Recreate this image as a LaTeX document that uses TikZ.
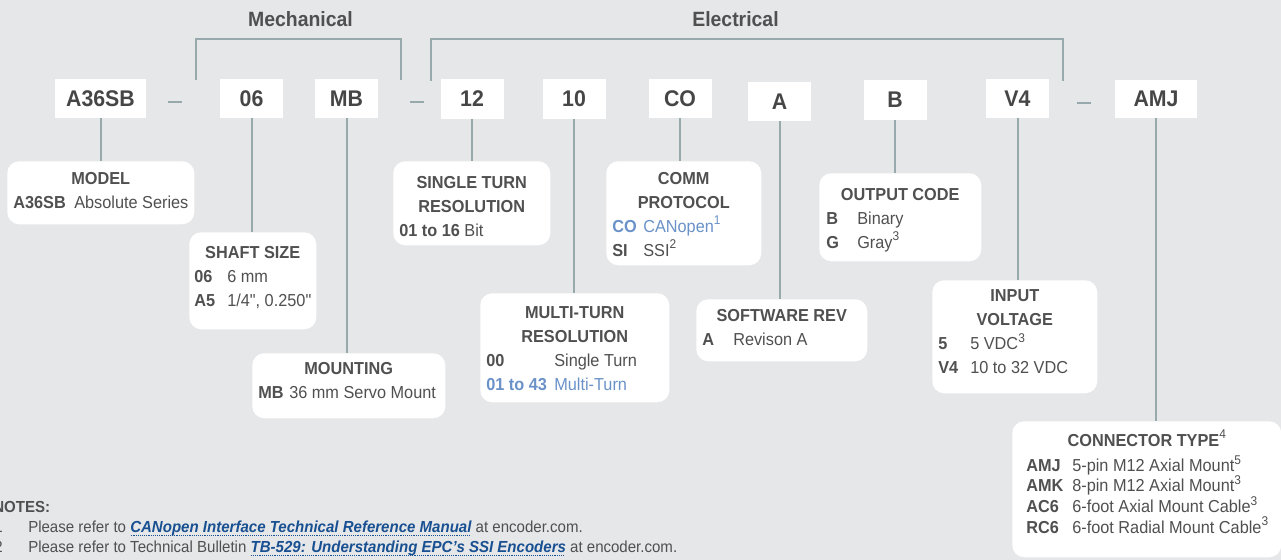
\documentclass[tikz,border=0pt]{standalone}
\usepackage{fontspec}
\setmainfont{Liberation Sans}[FakeStretch=0.94]
\newfontfamily\plainfont{Liberation Sans}[FakeStretch=0.94]
\usetikzlibrary{calc}
\definecolor{PageBg}  {RGB}{230,231,233}
\definecolor{WireCol} {RGB}{152,169,171}
\definecolor{TxtGray} {RGB}{80,80,80}
\definecolor{TxtDark} {RGB}{70,70,70}
\definecolor{OptBlue} {RGB}{106,146,200}
\definecolor{LinkBlue}{RGB}{24,80,145}
\tikzset{
  cbox/.style={fill=white,minimum width=47.25pt,minimum height=29.25pt,inner sep=0pt,font=\fontsize{17}{18}\selectfont\bfseries,text=TxtDark},
  dbox/.style={fill=white,rounded corners=9pt,inner sep=0pt},
  dtxt/.style={inner sep=0pt,align=left,font=\fontsize{13}{18}\selectfont,text=TxtGray},
  grp/.style={font=\fontsize{15.5}{18}\selectfont\bfseries,text=TxtGray},
  ntxt/.style={inner sep=0pt,font=\fontsize{12}{14}\selectfont,text=TxtGray},
  wire/.style={draw=WireCol,line width=1.5pt},
}
\newlength\hdw
% heading line, centred over the box
\newcommand{\hd}[1]{\makebox[\hdw][c]{\bfseries #1}}
% option code, fixed width column (in px)
\newcommand{\opt}[2]{\makebox[\dimexpr0.75pt*#1\relax][l]{\bfseries #2}}
% footnote mark
\newcommand{\fn}[1]{\raisebox{0.42em}{\mdseries\fontsize{9.5}{10}\selectfont #1}}
\newcommand{\inch}{{\plainfont"}}
% link text with dotted underline
\newcommand{\lnk}[1]{{\color{LinkBlue}\bfseries\itshape\setbox0=\hbox{#1}%
  \rlap{\raisebox{-2.4pt}{\hbox to \wd0{\leaders\hbox to 1.4pt{\hss\rule{0.7pt}{0.7pt}\hss}\hfill}}}\box0}}
% [text opts] name, x1, y1, x2, y2, gap, inset, text
\newcommand{\descbox}[9][]{%
  \setlength{\hdw}{\dimexpr0.75pt*(#5-#3-2*#8)\relax}%
  \node[dbox,anchor=north west,minimum width=\the\dimexpr0.75pt*(#5-#3)\relax,
        minimum height=\the\dimexpr0.75pt*(#6-#4)\relax] (#2) at (#3,#4) {};
  \node[dtxt,anchor=north west,#1] (#2t) at ([xshift=#8*0.75pt,yshift=-#7*0.75pt]#2.north west) {#9};}

\begin{document}
\begin{tikzpicture}[x=0.75pt,y=-0.75pt]
\useasboundingbox (0,0) rectangle (1281,560);
\fill[PageBg] (0,0) rectangle (1281,560);
% groups
\node[grp] (mech) at (300.5,19) {Mechanical};
\node[grp] (elec) at (735.5,19) {Electrical};
\coordinate (mechL) at (196,80);  \coordinate (mechR) at (401,80);
\coordinate (elecL) at (431,81);  \coordinate (elecR) at (1063,81);
\draw[wire] (mechL) -- ++(0,-41) -| (mechR);
\draw[wire] (elecL) -- ++(0,-42) -| (elecR);
% part number
\node[cbox,minimum width=68.25pt] (cA36) at (100.5,98.5) {A36SB};
\node[cbox] (c06) at (251.5,98.5) {06};
\node[cbox] (cMB) at (346.5,98.5) {MB};
\node[cbox] (c12) at (472,99) {12};
\node[cbox] (c10) at (574,99) {10};
\node[cbox] (cCO) at (680,98.5) {CO};
\node[cbox] (cA)  at (779.5,101.5) {A};
\node[cbox] (cB)  at (895,100) {B};
\node[cbox] (cV4) at (1017.5,98.5) {V4};
\node[cbox,minimum width=61.5pt,minimum height=28.5pt] (cAMJ) at (1156,99) {AMJ};
\foreach \a/\b in {168/102,410/102,1077/103}{\draw[wire] (\a,\b) -- ++(14,0);}
% descriptions
\descbox{dModel}{7}{161}{194}{224}{10.7}{6}{\hd{MODEL}\\\opt{61}{A36SB}Absolute Series}
\descbox{dShaft}{189}{232}{316}{329}{14.4}{5}{\hd{SHAFT SIZE}\\\opt{33}{06}6 mm\\\opt{33}{A5}1/4\inch, 0.250\inch}
\descbox{dMount}{252}{353}{445}{418}{9}{6}{\hd{MOUNTING}\\\opt{31}{MB}36 mm Servo Mount}
\descbox{dSingle}{393}{161}{550}{245}{14.7}{6}{\hd{SINGLE TURN}\\\hd{RESOLUTION}\\\textbf{01 to 16} Bit}
\descbox{dMulti}{480}{293}{669}{402}{13.7}{6}{\hd{MULTI-TURN}\\\hd{RESOLUTION}\\\opt{68}{00}Single Turn\\\textcolor{OptBlue}{\opt{68}{01 to 43}Multi-Turn}}
\descbox{dComm}{606}{161}{761}{265}{10.7}{6}{\hd{COMM}\\\hd{PROTOCOL}\\\textcolor{OptBlue}{\opt{31}{CO}CANopen\fn{1}}\\\opt{31}{SI}SSI\fn{2}}
\descbox{dSoft}{696}{299}{867}{361}{9.7}{6}{\hd{SOFTWARE REV}\\\opt{31}{A}Revison A}
\descbox{dOut}{819}{173}{981}{261}{14.7}{7}{\hd{OUTPUT CODE}\\\opt{31}{B}Binary\\\opt{31}{G}Gray\fn{3}}
\descbox{dIn}{932}{280}{1097}{393}{9.7}{6}{\hd{INPUT}\\\hd{VOLTAGE}\\\opt{32}{5}5 VDC\fn{3}\\\opt{32}{V4}10 to 32 VDC}
\descbox[font=\fontsize{13}{15.4}\selectfont]{dConn}{1012}{421}{1281}{557}{9}{14}{\hd{CONNECTOR TYPE\fn{4}}\\[3.5pt]
  \opt{46}{AMJ}5-pin M12 Axial Mount\fn{5}\\\opt{46}{AMK}8-pin M12 Axial Mount\fn{3}\\
  \opt{46}{AC6}6-foot Axial Mount Cable\fn{3}\\\opt{46}{RC6}6-foot Radial Mount Cable\fn{3}}
% connectors
\foreach \c/\d in {cA36/dModel,c06/dShaft,cMB/dMount,c12/dSingle,c10/dMulti,cCO/dComm,cA/dSoft,cB/dOut,cV4/dIn,cAMJ/dConn}
  {\draw[wire] (\c.south) -- (\c.south |- \d.north);}
% notes
\node[ntxt,anchor=base west] (notes) at (-7,512) {\bfseries NOTES:};
\node[ntxt,anchor=base west] (note1) at (28,532.5) {Please refer to \lnk{CANopen Interface Technical Reference Manual} at encoder.com.};
\node[ntxt,anchor=base west] (note2) at (28,552.5) {Please refer to Technical Bulletin \lnk{TB-529: Understanding EPC’s SSI Encoders} at encoder.com.};
\node[ntxt,anchor=base west] (num1) at (-6,532.5) {1};
\node[ntxt,anchor=base west] (num2) at (-6,552.5) {2};
\end{tikzpicture}
\end{document}
